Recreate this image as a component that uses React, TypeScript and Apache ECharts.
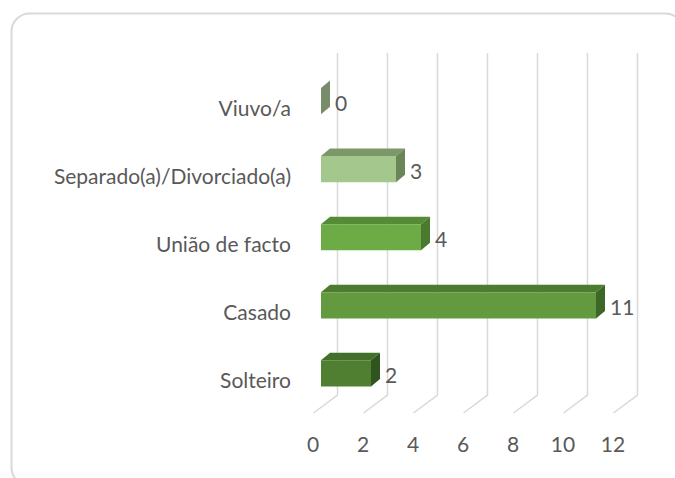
import React, { useEffect, useRef } from "react";
import * as echarts from "echarts";

const categories = ["Solteiro", "Casado", "União de facto", "Separado(a)/Divorciado(a)", "Viuvo/a"];
const values = [2, 11, 4, 3, 0];
const ticks = [0, 2, 4, 6, 8, 10, 12];

const faceColors = [
  { front: "#507f32", top: "#42702a", side: "#30541d" },
  { front: "#639a3f", top: "#4b7c2f", side: "#3d6726" },
  { front: "#6cab45", top: "#558a36", side: "#4a7a2e" },
  { front: "#a4c78d", top: "#7a9868", side: "#6a8659" },
  { front: "#8fa680", top: "#7d9270", side: "#778c6b" },
];

const FONT = "Lato";
const FS = 21;
const TEXT = "#595959";
const DX = 9;
const DY = 7.5;

export default function App() {
  const ref = useRef<HTMLDivElement>(null);
  useEffect(() => {
    if (!ref.current) return;
    const chart = echarts.init(ref.current, null, { renderer: "svg" });
    const option: any = {
      animation: false,
      backgroundColor: "#ffffff",
      grid: { left: 321, right: 54, top: 67, bottom: 70.5, containLabel: false },
      xAxis: {
        type: "value",
        min: 0,
        max: 12,
        interval: 2,
        axisLine: { show: false },
        axisTick: { show: false },
        splitLine: { show: false },
        axisLabel: {
          color: TEXT,
          fontFamily: FONT,
          fontSize: FS,
          margin: 25,
          padding: [0, 16, 0, 0],
        },
      },
      yAxis: {
        type: "category",
        data: categories,
        axisLine: { show: false },
        axisTick: { show: false },
        splitLine: { show: false },
        axisLabel: {
          margin: 30,
          formatter: (v: string) => `{a|${v}}`,
          rich: {
            a: {
              color: TEXT,
              fontFamily: FONT,
              fontSize: FS,
              padding: [12, 0, 0, 0],
            },
          },
        },
      },
      graphic: [
        {
          type: "rect",
          shape: { x: 11.5, y: 13.5, width: 672, height: 472, r: 18 },
          style: { fill: "none", stroke: "#d9d9d9", lineWidth: 2 },
          z: 0,
        },
      ],
      series: [
        {
          type: "custom",
          z: 1,
          silent: true,
          data: ticks.map((t) => [t, 0]),
          renderItem: (params: any, api: any) => {
            const v = api.value(0);
            const p = api.coord([v, 0]);
            const cs = params.coordSys;
            const top = cs.y - 14;
            const back = cs.y + cs.height - 12.5;
            const front = cs.y + cs.height + 5.5;
            const x = Math.round(p[0]) + 0.5;
            return {
              type: "polyline",
              shape: {
                points: [
                  [x + 16, top],
                  [x + 16, back],
                  [x - 8, front],
                ],
              },
              style: { stroke: "#d9d9d9", lineWidth: 1.5, fill: "none" },
            };
          },
        },
        {
          type: "custom",
          z: 2,
          data: values.map((v, i) => [v, i]),
          renderItem: (params: any, api: any) => {
            const v = api.value(0);
            const i = api.value(1);
            const p0 = api.coord([0, i]);
            const p1 = api.coord([v, i]);
            const band = api.size([0, 1])[1];
            const h = band * 0.385;
            const x0 = p0[0];
            const x1 = p1[0];
            const yT = p0[1] - h / 2;
            const yB = p0[1] + h / 2;
            const c = faceColors[i];
            const children: any[] = [];
            if (x1 - x0 > 0.5) {
              children.push({
                type: "polygon",
                shape: { points: [[x0, yT], [x1, yT], [x1 + DX, yT - DY], [x0 + DX, yT - DY]] },
                style: { fill: c.top },
              });
              children.push({
                type: "rect",
                shape: { x: x0, y: yT, width: x1 - x0, height: h },
                style: { fill: c.front },
              });
            }
            children.push({
              type: "polygon",
              shape: { points: [[x1, yT], [x1 + DX, yT - DY], [x1 + DX, yB - DY], [x1, yB]] },
              style: { fill: c.side },
            });
            children.push({
              type: "text",
              style: {
                text: String(values[i]),
                x: x1 + DX + 5,
                y: p0[1] + 1,
                fill: TEXT,
                font: `${FS}px ${FONT}`,
                verticalAlign: "middle",
                align: "left",
              },
            });
            return { type: "group", children };
          },
        },
      ],
    };
    chart.setOption(option);
    return () => chart.dispose();
  }, []);
  return (
    <div
      ref={ref}
      style={{ position: "fixed", left: 0, top: 0, width: 675, height: 478 }}
    />
  );
}
